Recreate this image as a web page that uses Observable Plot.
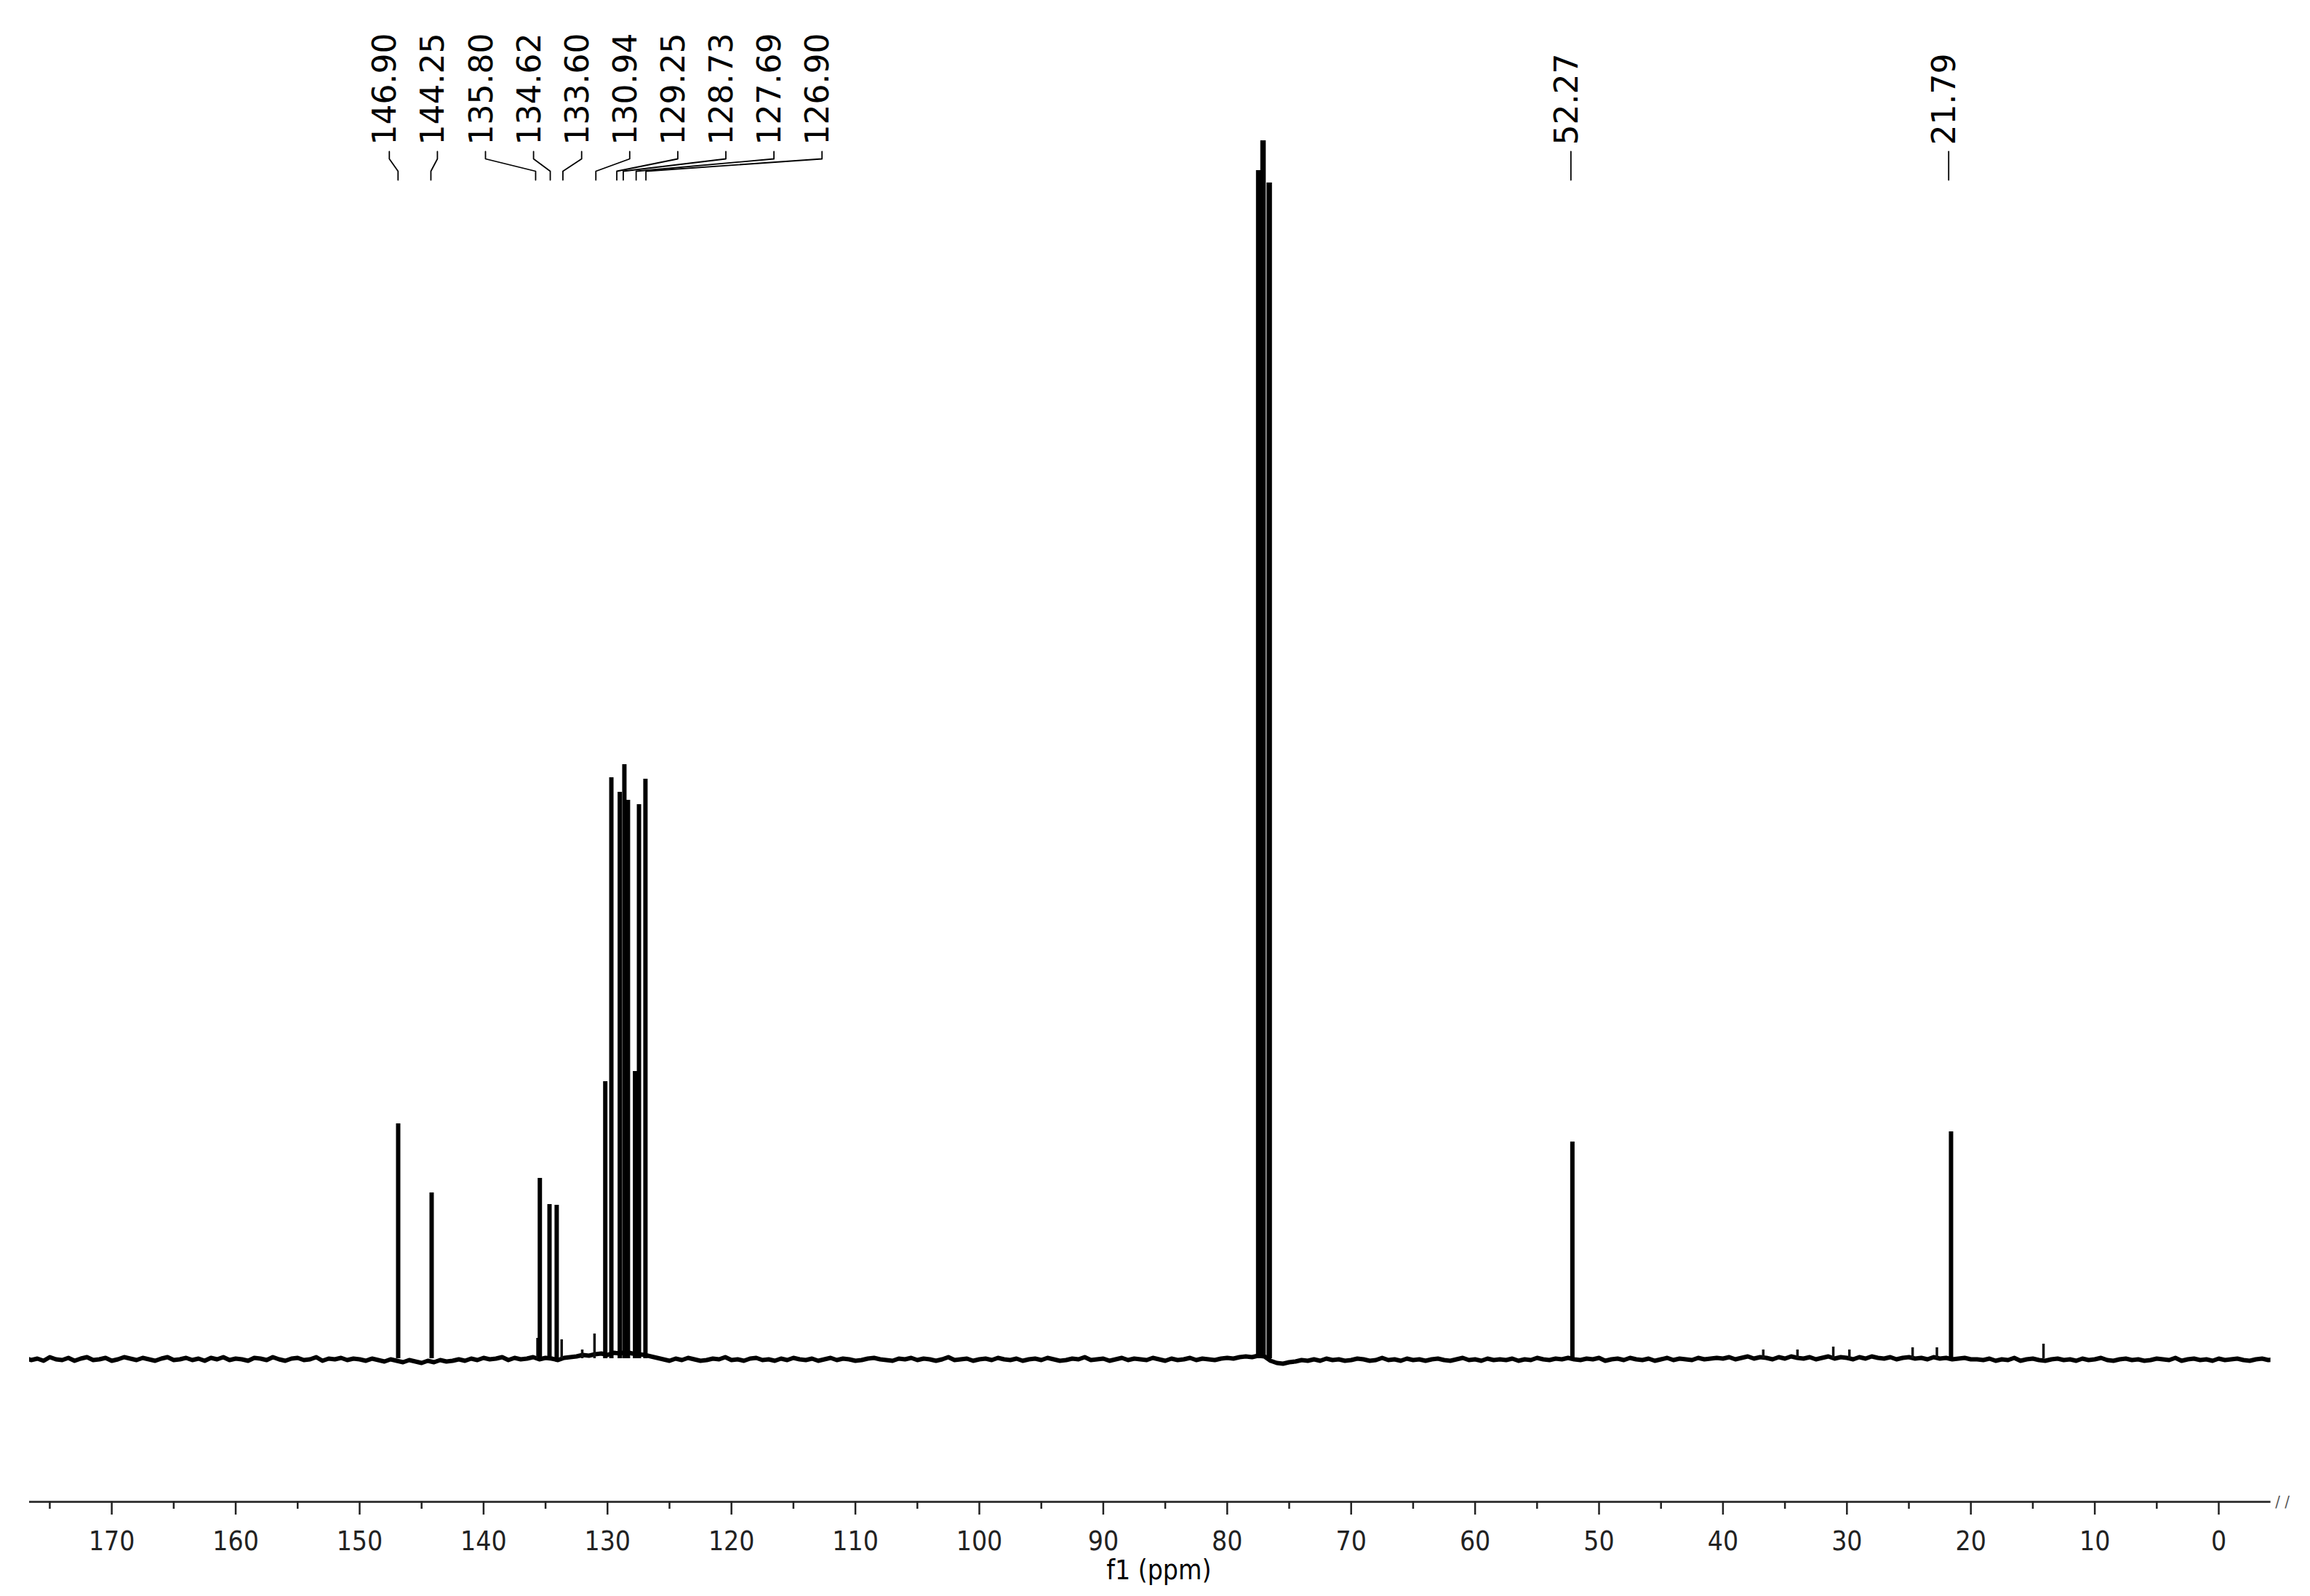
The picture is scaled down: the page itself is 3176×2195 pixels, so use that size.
<!DOCTYPE html>
<html><head><meta charset="utf-8">
<script src="https://cdn.jsdelivr.net/npm/d3@7"></script>
<script src="https://cdn.jsdelivr.net/npm/@observablehq/plot@0.6"></script>
<style>
html,body{margin:0;padding:0;background:#fff;}
#chart svg{display:block;}
</style></head><body><div id="chart"></div>
<script>
// ---- data ----
const peakPpm    = [146.89, 144.19, 135.46, 134.68, 134.10, 130.18, 129.69, 129.01, 128.64, 128.35, 127.78, 127.46, 126.94, 52.15, 21.60];
const peakHeight = [323, 228, 248, 212, 211, 381, 799, 779, 817, 768, 395, 762, 797, 298, 312];
const solventPpm    = [77.46, 77.11, 76.61];
const solventHeight = [1634, 1675, 1617];
const smallPpm    = [135.65, 133.70, 132.04, 131.05, 36.75, 33.99, 31.10, 29.80, 24.70, 22.74, 14.14];
const smallHeight = [28, 26, 12, 34, 12, 12, 16, 12, 15, 15, 20];
const labelValues = ["146.90","144.25","135.80","134.62","133.60","130.94","129.25","128.73","127.69","126.90","52.27","21.79"];
const majorTicks = [0,10,20,30,40,50,60,70,80,90,100,110,120,130,140,150,160,170];
const minorTicks = [5,15,25,35,45,55,65,75,85,95,105,115,125,135,145,155,165,175];
const axisTitle = "f1 (ppm)";
// baseline offset (noise/drift), one value every 0.5 ppm from 177 down to -4.5
const baselineStart = 177, baselineStep = 0.5;
const baselineValues = [
  1,-2,0,-3,2,-1,-2,1,-3,0, 2,-2,-1,1,-3,-1,2,0,-2,1, -1,-3,0,2,-2,-1,1,-2,0,-3,
  1,-1,2,-2,0,-1,-3,1,0,-2, 2,-1,-3,0,1,-2,-1,2,-3,0, -1,1,-2,0,
  -1,-3,0,-2,-4,-1,-3,-5,-2,-4, -6,-3,-5,-2,-4,-3,-1,-3,0,-2,
  1,-1,0,2,-2,1,-1,0,2,-1,1,0,-2,1,
  2,3,5,4,6,7,5,8,7,9,7,6,5,3,1,
  -1,-3,0,-2,1,-1,-3,-2,0,-1, 2,-2,-1,-3,0,1,-2,-1,-3,0, -2,1,-1,-2,0,-3,-1,1,-2,0,
  -1,-3,-2,0,1,-1,-2,-3,0,-1, 1,-2,0,-1,-3,-1,2,-2,-1,0, -3,-1,0,-2,1,-1,-2,0,-3,-1,
  0,-2,1,-1,-3,-2,0,-1,2,-2, -1,0,-3,-1,1,-2,0,-1,-2,1, -1,-3,0,-2,-1,1,-2,0,-1,-2,
  0,1,0,2,
  3,2,4,3,-3,-6,-7,-5,
  -4,-2,-3,-1,-3,0,-2,-1,-3,-2, 0,-1,-3,-2,1,-2,-1,-3,0,-2, -1,-3,-1,0,-2,-3,-1,1,-2,-1,
  -3,0,-2,-1,-2,0,-3,-1,-2,1, -1,-2,0,-1,
  1,-1,-2,0,-1,1,-3,-1,0,-2, 1,-1,-2,0,-3,-1,1,-2,0,-1, -2,1,-1,0,
  1,0,2,-1,1,3,0,2,1,-1, 2,0,3,1,0,2,-1,1,3,0, 2,1,-1,2,0,3,1,0,2,-1, 1,2,0,1,-1,2,0,1,-1,0, 1,-1,
  -1,-2,0,-3,-1,-2,1,-3,-1,0, -2,-3,-1,0,-2,-1,-3,0,-2,-1, 1,-2,-3,-1,0,-2,-1,-3,-2,0,
  -1,-2,1,-3,-1,0,-2,-1,-3,0, -2,-1,0,-2,-3,-1,0,-2,-1
];

// ---- layout ----
const W = 3176, H = 2195;
const mL = 40, mR = 54.4, mT = 0, mB = 130;
const xDomain = [176.64, -4.2];
const yDomain = [-197, 1868];
const xs = d3.scaleLinear().domain(xDomain).range([mL, W - mR]);

const baseline = baselineValues.map((v, i) => ({ppm: baselineStart - i * baselineStep, v}));
const peaks = peakPpm.map((p, i) => ({ppm: p, h: peakHeight[i]}));
const solvent = solventPpm.map((p, i) => ({ppm: p, h: solventHeight[i]}));
const small = smallPpm.map((p, i) => ({ppm: p, h: smallHeight[i]}));

// label placement: clustered labels spread at a fixed pitch
const pitch = 66.1, groupGap = 300;
const lp = labelValues.map(Number);
const cx = [];
for (let i = 0; i < lp.length; i++) {
  const px = xs(lp[i]);
  const joinPrev = i > 0 && px - xs(lp[i - 1]) < groupGap;
  const joinNext = i < lp.length - 1 && xs(lp[i + 1]) - px < groupGap;
  if (joinPrev) cx.push(cx[i - 1] + pitch);
  else if (joinNext) cx.push(px - 12);
  else cx.push(px);
}
const labels = labelValues.map((t, i) => ({t, ppm: xs.invert(cx[i] - 5)}));
const yText = 1669, yC0 = 1660, yC1 = 1650, yC2 = 1633, yC3 = 1621;
const connectors = [];
labelValues.forEach((t, i) => {
  const top = xs.invert(cx[i]);
  connectors.push({id: i, x: top, y: yC0}, {id: i, x: top, y: yC1}, {id: i, x: lp[i], y: yC2}, {id: i, x: lp[i], y: yC3});
});

const cond = "'DejaVu Sans Condensed', 'DejaVu Sans', sans-serif";
const chart = Plot.plot({
  width: W, height: H,
  marginLeft: mL, marginRight: mR, marginTop: mT, marginBottom: mB,
  style: {background: "#fff", color: "#222", overflow: "visible"},
  x: {domain: xDomain, axis: null},
  y: {domain: yDomain, axis: null},
  marks: [
    Plot.line(baseline, {x: "ppm", y: "v", stroke: "#000", strokeWidth: 6, strokeLinejoin: "round", clip: true}),
    Plot.ruleX(small, {x: "ppm", y1: 0, y2: "h", stroke: "#111", strokeWidth: 3.5}),
    Plot.ruleX(peaks, {x: "ppm", y1: 0, y2: "h", stroke: "#000", strokeWidth: 6}),
    Plot.ruleX(solvent, {x: "ppm", y1: 0, y2: "h", stroke: "#000", strokeWidth: 7.5}),
    Plot.line(connectors, {x: "x", y: "y", z: "id", stroke: "#000", strokeWidth: 1.8}),
    Plot.text(labels, {x: "ppm", y: yText, text: "t", rotate: -90, textAnchor: "start", lineAnchor: "middle",
      fontSize: 44, fontFamily: "'DejaVu Sans', sans-serif", fill: "#000"}),
    Plot.ruleY([yDomain[0]], {stroke: "#3a3a3a", strokeWidth: 3}),
    Plot.axisX(majorTicks, {anchor: "bottom", tickSize: 18, tickPadding: 22, strokeWidth: 2.5,
      fontSize: 37, fontFamily: cond, tickFormat: d => String(d), label: null}),
    Plot.axisX(minorTicks, {anchor: "bottom", tickSize: 10, strokeWidth: 2.5, tickFormat: () => "", label: null}),
    Plot.text([axisTitle], {frameAnchor: "bottom", dx: 12, dy: 95, lineAnchor: "middle", fontSize: 37, fontFamily: cond, fill: "#000"}),
    Plot.text(["/ /"], {frameAnchor: "bottom-right", dx: 16, dy: 0, lineAnchor: "middle", textAnchor: "middle", fontSize: 22, fontFamily: cond, fill: "#555"})
  ]
});
document.getElementById("chart").appendChild(chart);
</script></body></html>
